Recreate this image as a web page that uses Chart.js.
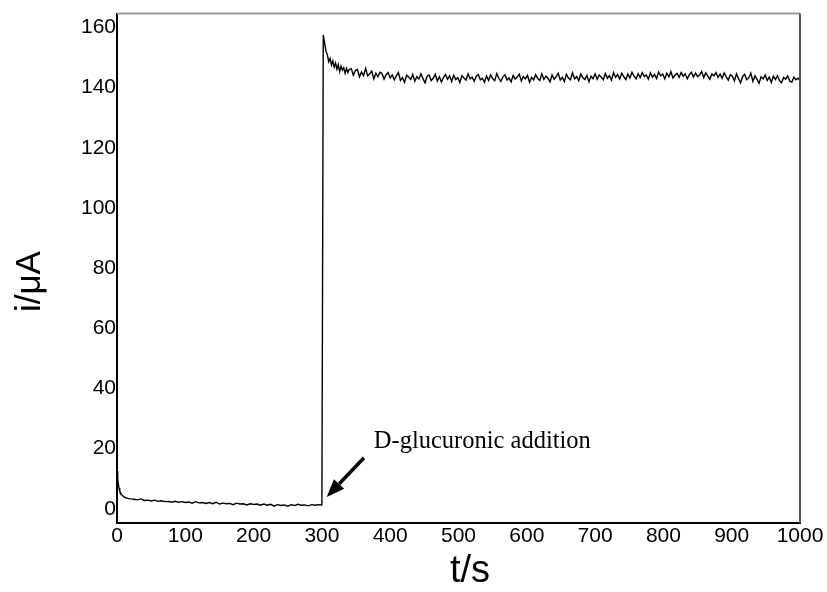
<!DOCTYPE html>
<html>
<head>
<meta charset="utf-8">
<script src="https://cdn.jsdelivr.net/npm/chart.js@4.4.0/dist/chart.umd.min.js"></script>
<style>
  html, body { margin: 0; padding: 0; background: #fff; }
  #chart { display: block; }
</style>
</head>
<body>
<canvas id="chart" width="827" height="592"></canvas>
<script>
// baseline before addition (t in s, i in uA)
const baseTimes = [0, 1, 2, 3, 4, 6, 8, 10, 13, 16, 20, 25, 30, 35, 40, 45, 50, 55, 60, 65, 70, 75, 80, 85, 90, 95,
  100, 105, 110, 115, 120, 125, 130, 135, 140, 145, 150, 155, 160, 165, 170, 175, 180, 185, 190, 195,
  200, 205, 210, 215, 220, 225, 230, 235, 240, 245, 250, 255, 260, 265, 270, 275, 280, 285, 290, 295, 300];
const baseCurrent = [12.6, 10.2, 8.1, 6.9, 6.0, 5.0, 4.4, 4.0, 3.7, 3.5, 3.3, 3.2, 3.0, 3.3, 2.8, 2.9, 2.6, 2.9, 2.5, 2.7, 2.4, 2.5, 2.2, 2.5, 2.2, 2.4,
  2.1, 2.3, 1.9, 2.4, 2.0, 2.1, 1.8, 2.1, 1.7, 2.2, 1.6, 1.9, 1.7, 1.8, 1.4, 1.9, 1.6, 1.7, 1.3, 1.7,
  1.5, 1.6, 1.2, 1.6, 1.2, 1.5, 0.9, 1.4, 1.1, 1.3, 0.9, 1.4, 1.1, 1.5, 1.2, 1.3, 1.0, 1.4, 1.2, 1.4, 1.3];

// jump after D-glucuronic addition
const jumpTimes = [302, 304, 306, 308, 310, 312, 314, 316, 318, 320, 322, 324, 326, 328, 330, 332, 334, 336, 338, 340];
const jumpCurrent = [157.5, 154.8, 152.1, 150.9, 148.6, 149.7, 147.5, 148.9, 146.8, 148.2, 146.1, 147.6, 145.3, 147.1, 145.8, 146.6, 144.8, 146.4, 145.0, 146.0];

// plateau, sampled every 3 s from 343 s
const plateauStart = 343;
const plateauStep = 3;
const plateauCurrent = [
  146.3, 144.1, 145.7, 146.0, 143.6, 145.2, 144.0, 146.4, 143.9, 144.6,
  145.5, 142.9, 144.8, 143.6, 145.1, 144.7, 142.8, 144.3, 145.0, 143.2,
  144.2, 142.6, 143.9, 145.0, 142.4, 143.3, 141.8, 144.1, 143.5, 142.7,
  144.4, 142.1, 143.7, 142.9, 144.6, 143.0, 141.6, 143.8, 144.2, 142.3,
  143.1, 144.5, 142.2, 143.6, 141.9, 143.4, 144.3, 142.8, 143.9, 142.0,
  144.1, 142.7, 143.3, 141.7, 144.0, 143.2, 142.5, 144.6, 142.9, 143.5,
  142.1, 143.8, 144.4, 142.6, 143.1, 141.8, 143.9, 142.4, 144.2, 143.0,
  142.3, 144.7, 143.1, 142.0, 143.6, 144.3, 142.5, 143.2, 141.9, 144.0,
  142.8, 143.5, 144.5, 142.2, 143.7, 142.9, 144.1, 141.8, 143.4, 142.6,
  144.3, 143.0, 142.4, 144.6, 142.7, 143.8, 143.1, 141.9, 144.2, 142.8,
  143.6, 144.8, 142.5, 143.4, 142.0, 144.4, 143.2, 142.6, 144.9, 142.9,
  143.7, 142.3, 144.5, 143.3, 142.7, 144.1, 141.9, 143.8, 143.0, 144.6,
  142.8, 144.2, 143.5, 142.6, 144.7, 143.1, 144.0, 142.5, 145.0, 143.4,
  144.3, 142.9, 144.8, 143.6, 142.7, 144.5, 143.2, 145.1, 143.8, 142.9,
  144.6, 143.3, 145.0, 143.7, 144.2, 142.8, 144.9, 143.5, 144.4, 143.0,
  145.2, 143.9, 144.5, 142.9, 144.8, 143.6, 145.3, 143.2, 144.1, 144.7,
  143.4, 145.0, 143.8, 144.6, 142.9, 144.3, 145.1, 143.5, 144.8, 143.7,
  144.2, 145.4, 143.3, 144.9, 143.8, 142.8, 144.6, 143.9, 145.0, 143.4,
  144.5, 143.1, 144.9, 143.6, 142.5, 144.3, 143.8, 142.2, 144.6, 143.0,
  141.6, 143.7, 144.4, 142.6, 143.3, 144.8, 142.1, 143.9, 142.8, 141.4,
  143.6, 142.9, 144.2, 142.4, 143.5, 141.7, 143.8, 142.7, 144.0, 142.3,
  141.6, 143.4, 142.8, 143.9, 142.2, 141.8, 143.5, 142.6, 143.1, 142.4
];
const plateauTimes = plateauCurrent.map((v, i) => plateauStart + i * plateauStep);

const xTicks = [0, 100, 200, 300, 400, 500, 600, 700, 800, 900, 1000];
const yTicks = [0, 20, 40, 60, 80, 100, 120, 140, 160];

const times = baseTimes.concat(jumpTimes, plateauTimes);
const current = baseCurrent.concat(jumpCurrent, plateauCurrent);
const points = times.map((t, i) => ({ x: t, y: current[i] }));

// annotation anchors in data units
const note = { text: "D-glucuronic addition", x: 376, y: 20.1, tailX: 361.6, tailY: 17, tipX: 307, tipY: 3.9 };

const extras = {
  id: "extras",
  afterDraw(chart) {
    const c = chart.ctx, a = chart.chartArea;
    const sx = chart.scales.x, sy = chart.scales.y;
    c.save();
    // top + right frame
    c.lineWidth = 2;
    c.strokeStyle = "#9a9a9a";
    c.beginPath();
    c.moveTo(a.left, a.top);
    c.lineTo(a.right, a.top);
    c.stroke();
    c.strokeStyle = "#555";
    c.beginPath();
    c.moveTo(a.right, a.top);
    c.lineTo(a.right, a.bottom);
    c.stroke();

    // axis titles
    c.fillStyle = "#000";
    c.textAlign = "center";
    c.textBaseline = "middle";
    c.font = "38px 'Liberation Sans', Arial, sans-serif";
    c.fillText("t/s", a.left + 353, a.bottom + 49);
    c.save();
    c.translate(a.left - 87, a.top + 268);
    c.rotate(-Math.PI / 2);
    c.font = "35px 'Liberation Sans', Arial, sans-serif";
    c.fillText("i/\u03bcA", 0, 0);
    c.restore();

    // annotation text
    c.font = "24.5px 'Liberation Serif', 'Times New Roman', serif";
    c.textAlign = "left";
    c.textBaseline = "alphabetic";
    c.fillText(note.text, sx.getPixelForValue(note.x), sy.getPixelForValue(note.y));

    // arrow
    const x0 = sx.getPixelForValue(note.tailX), y0 = sy.getPixelForValue(note.tailY);
    const x1 = sx.getPixelForValue(note.tipX), y1 = sy.getPixelForValue(note.tipY);
    const ang = Math.atan2(y1 - y0, x1 - x0);
    const hl = 18, hw = 7;
    const bx = x1 - hl * Math.cos(ang), by = y1 - hl * Math.sin(ang);
    c.strokeStyle = "#000";
    c.lineWidth = 3.5;
    c.beginPath();
    c.moveTo(x0, y0);
    c.lineTo(bx, by);
    c.stroke();
    c.beginPath();
    c.moveTo(x1, y1);
    c.lineTo(bx + hw * Math.sin(ang), by - hw * Math.cos(ang));
    c.lineTo(bx - hw * Math.sin(ang), by + hw * Math.cos(ang));
    c.closePath();
    c.fill();
    c.restore();
  }
};

const tickFont = { family: "'Liberation Sans', Arial, sans-serif", size: 21 };

new Chart(document.getElementById("chart").getContext("2d"), {
  type: "line",
  data: {
    datasets: [{
      data: points,
      borderColor: "#000",
      borderWidth: 1.4,
      pointRadius: 0,
      tension: 0,
      fill: false
    }]
  },
  options: {
    responsive: false,
    animation: false,
    layout: { padding: { top: 5, right: 27, left: 0, bottom: 0 } },
    plugins: { legend: { display: false }, tooltip: { enabled: false } },
    scales: {
      x: {
        type: "linear",
        min: 0,
        max: 1000,
        afterBuildTicks: s => { s.ticks = xTicks.map(v => ({ value: v })); },
        afterFit: s => { s.height = 69; },
        ticks: { color: "#000", font: tickFont, padding: 1, maxRotation: 0, autoSkip: false, callback: v => String(v) },
        grid: { display: false, drawTicks: false },
        border: { color: "#000", width: 2 }
      },
      y: {
        min: -4.7,
        max: 164.6,
        afterBuildTicks: s => { s.ticks = yTicks.map(v => ({ value: v })); },
        afterFit: s => { s.width = 117; },
        ticks: { color: "#000", font: tickFont, padding: 1, callback: v => String(v) },
        grid: { display: false, drawTicks: false },
        border: { color: "#000", width: 2 }
      }
    }
  },
  plugins: [extras]
});
</script>
</body>
</html>
